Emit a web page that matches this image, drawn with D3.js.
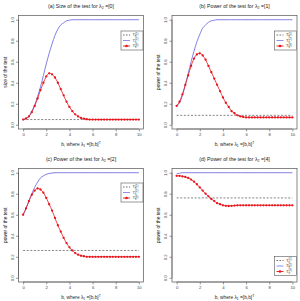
<!DOCTYPE html>
<html>
<head>
<meta charset="utf-8">
<script src="https://cdn.jsdelivr.net/npm/d3@7"></script>
<style>
  body { margin: 0; background: #fff; }
  svg { display: block; font-family: "Liberation Sans", Arial, sans-serif; }
</style>
</head>
<body>
<svg id="chart" width="300" height="301"></svg>
<script>
// b grid (step 0.25)
const bValues = d3.range(0, 10.001, 0.25);

const titles = ["(a) Size of the test for ", "(b) Power of the test for ", "(c) Power of the test for ", "(d) Power of the test for "];
const lambdaTwo = ["[0]", "[1]", "[2]", "[4]"];
const yLabels = ["size of the test", "power of the test", "power of the test", "power of the test"];
const xTicks = [0, 2, 4, 6, 8, 10];
const yTicks = [0, 0.2, 0.4, 0.6, 0.8, 1.0];

// T1: constant level per panel
const t1Level = [0.05, 0.09, 0.26, 0.76];

// T2 (blue), first values then stays at the last one
const t2a = [0.05, 0.06, 0.08, 0.13, 0.19, 0.27, 0.36, 0.47, 0.58, 0.68, 0.77, 0.85, 0.91, 0.95, 0.97, 0.99, 0.995, 1.0];
const t2b = [0.18, 0.21, 0.28, 0.38, 0.49, 0.60, 0.70, 0.79, 0.86, 0.92, 0.95, 0.975, 0.99, 0.995, 1.0];
const t2c = [0.60, 0.66, 0.73, 0.80, 0.86, 0.91, 0.95, 0.97, 0.985, 0.993, 0.997, 1.0];
const t2d = [0.99, 0.995, 1.0];

// T3 (red, with points)
const t3a = [0.05, 0.06, 0.08, 0.12, 0.18, 0.25, 0.33, 0.40, 0.46, 0.49, 0.48, 0.45, 0.40, 0.34, 0.28, 0.22, 0.17, 0.13, 0.10, 0.08, 0.065, 0.058, 0.053, 0.05];
const t3b = [0.18, 0.22, 0.29, 0.38, 0.47, 0.56, 0.63, 0.67, 0.68, 0.66, 0.62, 0.56, 0.50, 0.44, 0.38, 0.32, 0.26, 0.21, 0.17, 0.13, 0.11, 0.09, 0.08, 0.075, 0.07];
const t3c = [0.60, 0.66, 0.73, 0.79, 0.83, 0.85, 0.84, 0.81, 0.76, 0.70, 0.64, 0.57, 0.50, 0.44, 0.38, 0.33, 0.29, 0.26, 0.235, 0.22, 0.21, 0.205, 0.20];
const t3d = [0.97, 0.97, 0.965, 0.96, 0.95, 0.935, 0.915, 0.89, 0.86, 0.83, 0.80, 0.775, 0.75, 0.73, 0.71, 0.70, 0.69, 0.685, 0.683, 0.685, 0.687, 0.69];

// pad a series out to the full b grid with its last value
function full(vals) {
  return bValues.map((b, i) => i < vals.length ? vals[i] : vals[vals.length - 1]);
}

const t2 = [t2a, t2b, t2c, t2d].map(full);
const t3 = [t3a, t3b, t3c, t3d].map(full);

const origins = [[0, 0], [153.5, 0], [0, 153], [153.5, 153]];
const legendTop = [31, 31, 30, 103.5];

const svg = d3.select("#chart");

const x = d3.scaleLinear().domain([-0.4, 10.4]).range([18.5, 143.5]);
const y = d3.scaleLinear().domain([-0.04, 1.04]).range([129, 15.5]);

const blue = "#6060e0";
const red = "#e8141c";

origins.forEach(([ox, oy], p) => {
  const g = svg.append("g").attr("transform", `translate(${ox},${oy})`);

  // title
  const title = g.append("text")
    .attr("x", 81).attr("y", 7.5)
    .attr("text-anchor", "middle")
    .attr("font-size", 5.2)
    .attr("fill", "#222")
    .text(titles[p] + "λ");
  title.append("tspan").attr("font-size", 3.6).attr("dy", 1.2).text("2");
  title.append("tspan").attr("dy", -1.2).text(" =" + lambdaTwo[p]);

  // axes
  const xAxis = d3.axisBottom(x).tickValues(xTicks).tickSize(2.5).tickPadding(2)
    .tickFormat(d3.format("d"));
  const gx = g.append("g").attr("transform", "translate(0,129)").call(xAxis);
  gx.select(".domain").attr("d", `M${x(0)},0H${x(10)}`);

  const yAxis = d3.axisLeft(y).tickValues(yTicks).tickSize(2.5)
    .tickFormat(d3.format(".1f"));
  const gy = g.append("g").attr("transform", "translate(18.5,0)").call(yAxis);
  gy.select(".domain").attr("d", `M0,${y(0)}V${y(1)}`);
  gy.selectAll(".tick text")
    .attr("x", 0).attr("y", 0).attr("dy", 0)
    .attr("transform", "translate(-5,0) rotate(-90)")
    .attr("text-anchor", "middle");

  [gx, gy].forEach(a => {
    a.selectAll("path, line").attr("stroke", "#555").attr("stroke-width", 0.6);
    a.selectAll("text").attr("font-size", 4.2).attr("fill", "#444")
      .attr("font-family", "Liberation Sans, Arial, sans-serif");
  });

  // axis labels
  const xl = g.append("text")
    .attr("x", 81).attr("y", 146)
    .attr("text-anchor", "middle")
    .attr("font-size", 4.8)
    .attr("fill", "#222")
    .text("b, where λ");
  xl.append("tspan").attr("font-size", 3.4).attr("dy", 1.1).text("1");
  xl.append("tspan").attr("dy", -1.1).text(" =[b,b]");
  xl.append("tspan").attr("font-size", 3.4).attr("dy", -2).text("T");

  g.append("text")
    .attr("transform", `translate(6.5,${y(0.5)}) rotate(-90)`)
    .attr("text-anchor", "middle")
    .attr("font-size", 4.8)
    .attr("fill", "#222")
    .text(yLabels[p]);

  // clipped drawing area
  const clipId = "clip" + p;
  g.append("clipPath").attr("id", clipId)
    .append("rect").attr("x", 18.5).attr("y", 15.5).attr("width", 125).attr("height", 113.5);
  const plot = g.append("g").attr("clip-path", `url(#${clipId})`);

  const line = d3.line().x(d => x(d[0])).y(d => y(d[1])).curve(d3.curveMonotoneX);

  // T1 dashed
  plot.append("path")
    .attr("d", line([[0, t1Level[p]], [10, t1Level[p]]]))
    .attr("fill", "none").attr("stroke", "#333")
    .attr("stroke-width", 0.6).attr("stroke-dasharray", "2,1.6");

  // T2 blue
  plot.append("path")
    .attr("d", line(bValues.map((b, i) => [b, t2[p][i]])))
    .attr("fill", "none").attr("stroke", blue).attr("stroke-width", 0.8);

  // T3 red line + points
  const pts = bValues.map((b, i) => [b, t3[p][i]]);
  plot.append("path")
    .attr("d", line(pts))
    .attr("fill", "none").attr("stroke", red).attr("stroke-width", 0.8);
  plot.selectAll("circle").data(pts).enter().append("circle")
    .attr("cx", d => x(d[0])).attr("cy", d => y(d[1]))
    .attr("r", 1.15).attr("fill", red);

  // box
  g.append("rect")
    .attr("x", 18.5).attr("y", 15.5).attr("width", 125).attr("height", 113.5)
    .attr("fill", "none").attr("stroke", "#555").attr("stroke-width", 0.7);

  // legend
  const lg = g.append("g").attr("transform", `translate(121,${legendTop[p]})`);
  lg.append("rect").attr("width", 22).attr("height", 19)
    .attr("fill", "#fff").attr("stroke", "#555").attr("stroke-width", 0.6);
  const rows = [
    { stroke: "#333", dash: "1.6,1.4", dot: false, n: "1" },
    { stroke: blue, dash: null, dot: false, n: "2" },
    { stroke: red, dash: null, dot: true, n: "3" }
  ];
  rows.forEach((r, i) => {
    const cy = 4 + i * 5.5;
    lg.append("line").attr("x1", 2).attr("x2", 9).attr("y1", cy).attr("y2", cy)
      .attr("stroke", r.stroke).attr("stroke-width", r.dot ? 0.9 : 0.7)
      .attr("stroke-dasharray", r.dash);
    if (r.dot) lg.append("circle").attr("cx", 5.5).attr("cy", cy).attr("r", 1.3).attr("fill", red);
    const t = lg.append("text").attr("x", 11.5).attr("y", cy + 1.4)
      .attr("font-size", 4).attr("fill", "#333").text("T");
    t.append("tspan").attr("font-size", 2.8).attr("dy", 0.8).text("n");
    t.append("tspan").attr("font-size", 2.8).attr("dx", -1.6).attr("dy", -2.6).text(`(${r.n})`);
  });
});
</script>
</body>
</html>
